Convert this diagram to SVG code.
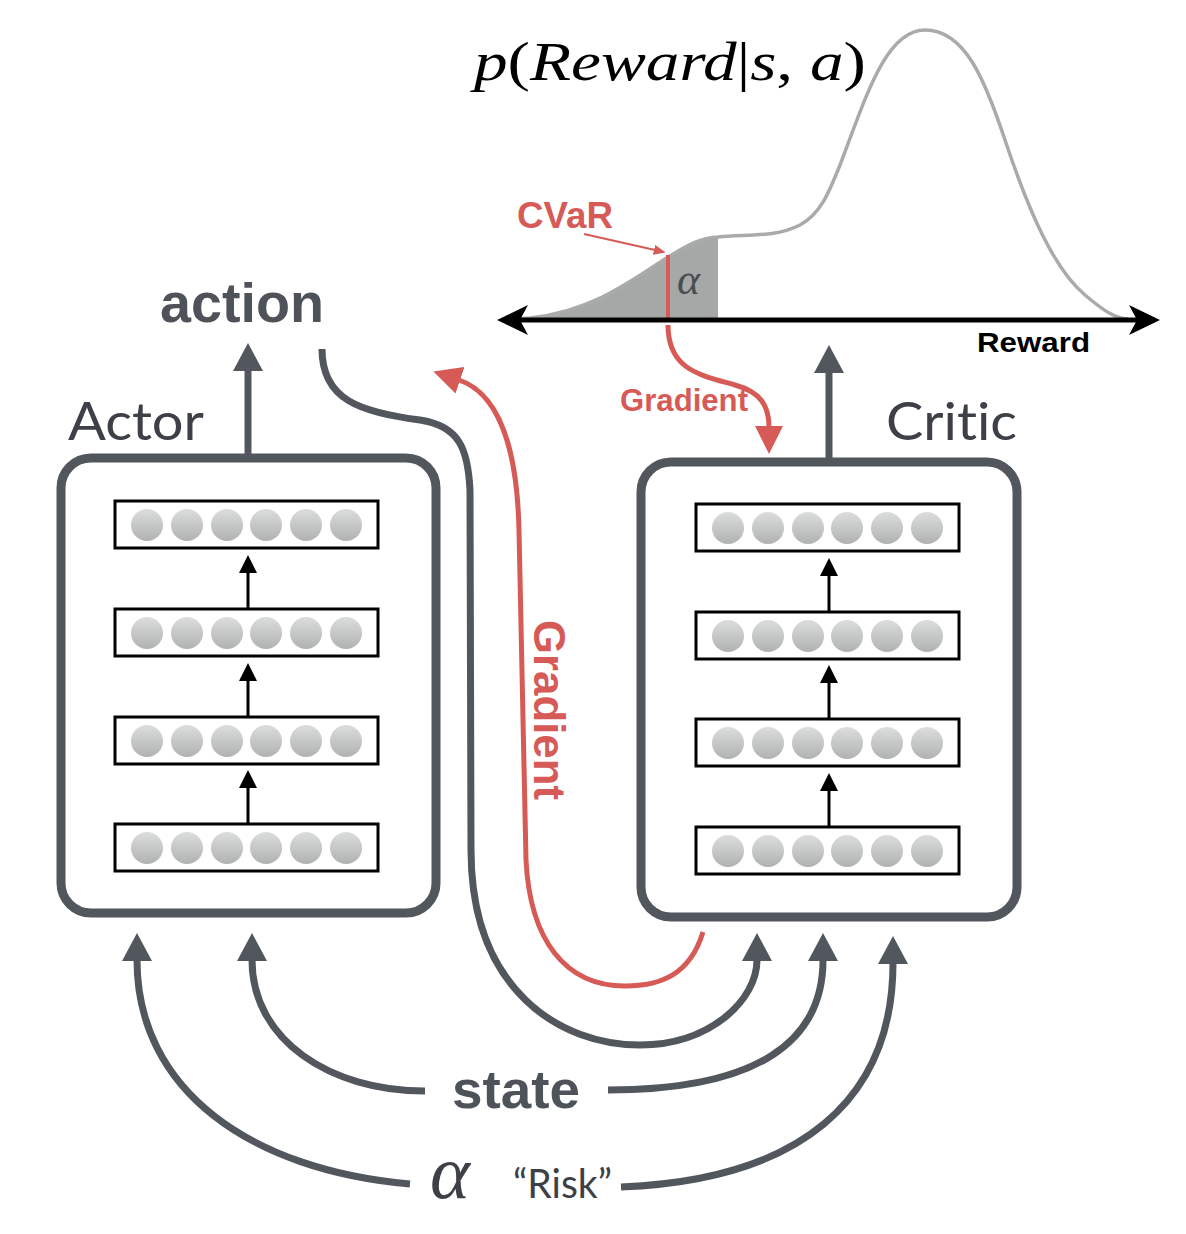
<svg xmlns="http://www.w3.org/2000/svg" width="1186" height="1234" viewBox="0 0 1186 1234">
<style>
.box{fill:none;stroke:#52575e;stroke-width:9}
.layer{fill:#fff;stroke:#000;stroke-width:3}
.dk{fill:none;stroke:#52575e;stroke-width:7}
.rd{fill:none;stroke:#d65b57;stroke-width:5}
.bk{fill:none;stroke:#000;stroke-width:3}
.lbl{font-family:Lato,"Liberation Sans",sans-serif;font-weight:normal;fill:#3d4046;font-variant-ligatures:none;font-feature-settings:"liga" 0}
.bold{font-family:"Liberation Sans",Arial,sans-serif;font-weight:bold}
.math{font-family:"Liberation Serif","Times New Roman",serif;font-style:italic}
</style>
<defs>
<linearGradient id="ng" x1="0" y1="0" x2="0" y2="1">
<stop offset="0" stop-color="#dcdddd"/>
<stop offset="1" stop-color="#b0b2b1"/>
</linearGradient>
<marker id="ahd" viewBox="0 0 28 30" refX="1" refY="15" markerWidth="28" markerHeight="30" markerUnits="userSpaceOnUse" orient="auto">
<path d="M0,0 L28,15 L0,30 Z" fill="#52575e"/>
</marker>
<marker id="ahr" viewBox="0 0 28 28" refX="1" refY="14" markerWidth="28" markerHeight="28" markerUnits="userSpaceOnUse" orient="auto">
<path d="M0,0 L28,14 L0,28 Z" fill="#d65b57"/>
</marker>
<marker id="ahrs" viewBox="0 0 12 10" refX="1" refY="5" markerWidth="12" markerHeight="10" markerUnits="userSpaceOnUse" orient="auto">
<path d="M0,0 L12,5 L0,10 Z" fill="#d65b57"/>
</marker>
<marker id="ahb" viewBox="0 0 18 18" refX="1" refY="9" markerWidth="18" markerHeight="18" markerUnits="userSpaceOnUse" orient="auto">
<path d="M0,0 L18,9 L0,18 Z" fill="#000"/>
</marker>
<g id="row">
<rect class="layer" x="0" y="0" width="263" height="47"/>
<circle cx="32" cy="24" r="16" fill="url(#ng)"/>
<circle cx="72" cy="24" r="16" fill="url(#ng)"/>
<circle cx="112" cy="24" r="16" fill="url(#ng)"/>
<circle cx="151" cy="24" r="16" fill="url(#ng)"/>
<circle cx="191" cy="24" r="16" fill="url(#ng)"/>
<circle cx="231" cy="24" r="16" fill="url(#ng)"/>
</g>
</defs>
<rect width="1186" height="1234" fill="#fff"/>

<!-- distribution plot -->
<g id="distribution">
<text x="474" y="80" font-size="54" fill="#000" class="math" textLength="392" lengthAdjust="spacingAndGlyphs">p<tspan font-style="normal">(</tspan>Reward<tspan font-style="normal">|</tspan>s<tspan font-style="normal">, </tspan>a<tspan font-style="normal">)</tspan></text>
<path d="M 530 320 L 530 318 C 590 312, 630 282, 668 257 C 690 244, 700 238, 718 237 L 718 320 Z" fill="#a5a8a7"/>
<path d="M 510 319 C 520 319, 525 318, 530 318 C 590 312, 630 282, 668 257 C 690 244, 700 238, 718 237 C 745 234, 775 238, 800 225 C 820 214, 828 195, 840 165 C 865 100, 885 30, 925 30 C 965 30, 985 80, 1005 140 C 1030 215, 1055 270, 1085 295 C 1105 312, 1115 318, 1128 319" fill="none" stroke="#a9abaa" stroke-width="3.5"/>
<text x="677" y="294" font-size="44" class="math" fill="#4a4d50">α</text>
<line x1="668" y1="255" x2="668" y2="318" stroke="#d65b57" stroke-width="4"/>
<line x1="505" y1="320" x2="1152" y2="320" stroke="#000" stroke-width="5"/>
<path d="M497 320 L528 305 L520 320 L528 335 Z" fill="#000"/>
<path d="M1160 320 L1129 305 L1137 320 L1129 335 Z" fill="#000"/>
<text x="977" y="352" font-size="28" class="bold" fill="#000" textLength="113" lengthAdjust="spacingAndGlyphs">Reward</text>
<text x="517" y="228" font-size="36" class="bold" fill="#d65b57" textLength="96" lengthAdjust="spacingAndGlyphs">CVaR</text>
</g>

<!-- Actor -->
<g id="actor">
<rect class="box" x="61" y="458" width="375" height="455" rx="30"/>
<text x="68" y="440" font-size="52" class="lbl" textLength="136" lengthAdjust="spacingAndGlyphs">Actor</text>
<use href="#row" x="115" y="501"/>
<use href="#row" x="115" y="609"/>
<use href="#row" x="115" y="717"/>
<use href="#row" x="115" y="824"/>
</g>

<!-- Critic -->
<g id="critic">
<rect class="box" x="641" y="462" width="376" height="455" rx="30"/>
<text x="886" y="440" font-size="52" class="lbl" textLength="131" lengthAdjust="spacingAndGlyphs">Critic</text>
<use href="#row" x="696" y="504"/>
<use href="#row" x="696" y="612"/>
<use href="#row" x="696" y="719"/>
<use href="#row" x="696" y="827"/>
</g>

<g id="labels">
<text x="160" y="322" font-size="55" class="bold" fill="#4e535a" textLength="164" lengthAdjust="spacingAndGlyphs">action</text>
<text x="452" y="1108" font-size="54" class="bold" fill="#4e535a" textLength="128" lengthAdjust="spacingAndGlyphs">state</text>
<text x="430" y="1198" font-size="76" class="math" fill="#3d4046">α</text>
<text x="513" y="1198" font-size="40" class="lbl" textLength="99" lengthAdjust="spacingAndGlyphs">“Risk”</text>
<text transform="translate(534,620) rotate(90)" font-size="44" class="bold" fill="#d65b57" textLength="180" lengthAdjust="spacingAndGlyphs">Gradient</text>
<text x="620" y="411" font-size="31" class="bold" fill="#d65b57" textLength="128" lengthAdjust="spacingAndGlyphs">Gradient</text>
</g>

<g id="connectors">
<!-- internal layer arrows -->
<line class="bk" x1="248" y1="608" x2="248" y2="572" marker-end="url(#ahb)"/>
<line class="bk" x1="248" y1="716" x2="248" y2="680" marker-end="url(#ahb)"/>
<line class="bk" x1="248" y1="823" x2="248" y2="787" marker-end="url(#ahb)"/>
<line class="bk" x1="829" y1="611" x2="829" y2="575" marker-end="url(#ahb)"/>
<line class="bk" x1="829" y1="718" x2="829" y2="682" marker-end="url(#ahb)"/>
<line class="bk" x1="829" y1="826" x2="829" y2="790" marker-end="url(#ahb)"/>
<!-- outputs -->
<line class="dk" x1="248" y1="458" x2="248" y2="370" marker-end="url(#ahd)"/>
<line class="dk" x1="829" y1="462" x2="829" y2="372" marker-end="url(#ahd)"/>
<!-- action to critic -->
<path class="dk" d="M 322 349 C 322 400, 360 412, 420 420 C 460 426, 468 450, 470 490 L 471 850 C 471 990, 560 1045, 640 1045 C 710 1045, 757 1000, 757 960" marker-end="url(#ahd)"/>
<!-- state arrows -->
<path class="dk" d="M 425 1091 C 330 1091, 252 1040, 252 960" marker-end="url(#ahd)"/>
<path class="dk" d="M 608 1090 C 760 1090, 823 1040, 823 960" marker-end="url(#ahd)"/>
<!-- risk arrows -->
<path class="dk" d="M 410 1184 C 250 1170, 137 1090, 137 960" marker-end="url(#ahd)"/>
<path class="dk" d="M 621 1187 C 800 1180, 893 1100, 893 963" marker-end="url(#ahd)"/>
<!-- gradients -->
<path class="rd" d="M 668 325 C 668 370, 700 375, 735 385 C 760 392, 769 405, 769 427" marker-end="url(#ahr)"/>
<path class="rd" d="M 703 932 C 690 975, 660 986, 625 986 C 565 986, 530 940, 526 860 L 519 530 C 517 440, 495 392, 459 380" marker-end="url(#ahr)"/>
<line x1="584" y1="234" x2="655" y2="250" stroke="#d65b57" stroke-width="2" marker-end="url(#ahrs)"/>
</g>
</svg>
